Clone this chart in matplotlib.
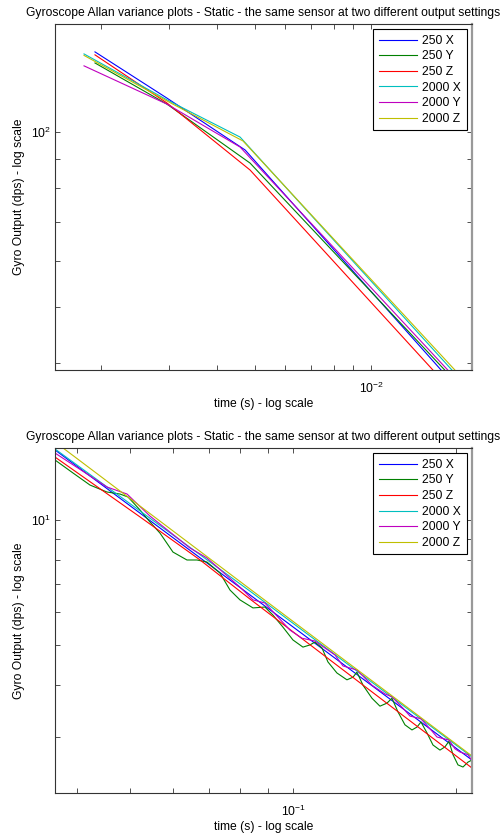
import numpy as np
import matplotlib
matplotlib.use('Agg')
import matplotlib.pyplot as plt
from matplotlib.ticker import LogLocator, NullFormatter

plt.rcParams['font.family'] = ['Liberation Sans', 'DejaVu Sans']
plt.rcParams['font.size'] = 8.7
plt.rcParams['mathtext.fontset'] = 'custom'
plt.rcParams['mathtext.rm'] = 'Liberation Sans'
plt.rcParams['mathtext.default'] = 'regular'
plt.rcParams['axes.unicode_minus'] = False

title = 'Gyroscope Allan variance plots - Static - the same sensor at two different output settings'
labels = ['250 X', '250 Y', '250 Z', '2000 X', '2000 Y', '2000 Z']
# old matlab colour order
colors = [(0, 0, 1), (0, 0.5, 0), (1, 0, 0), (0, 0.75, 0.75), (0.75, 0, 0.75), (0.75, 0.75, 0)]

# ---- top plot (tau in s, deviation in dps)
top_250x_t = [1.927e-3, 2.96e-3, 4.72e-3, 1.601e-2]
top_250x_v = [137.4, 114.4, 93.1, 37.4]
top_250y_t = [1.927e-3, 2.96e-3, 4.86e-3, 1.641e-2]
top_250y_v = [131.5, 111.7, 88.4, 37.4]
top_250z_t = [1.927e-3, 2.96e-3, 4.86e-3, 1.527e-2]
top_250z_v = [135.8, 112.2, 86.0, 37.4]
top_2000x_t = [1.805e-3, 2.96e-3, 4.58e-3, 1.710e-2]
top_2000x_v = [136.3, 113.6, 98.0, 37.4]
top_2000y_t = [1.805e-3, 2.96e-3, 4.58e-3, 1.670e-2]
top_2000y_v = [130.0, 111.7, 94.2, 37.4]
top_2000z_t = [1.805e-3, 2.96e-3, 4.66e-3, 1.742e-2]
top_2000z_v = [135.5, 113.1, 96.5, 37.4]

# ---- bottom plot
bot_250x_t = [0.03638, 0.0833, 0.2140]
bot_250x_v = [14.75, 6.60, 2.64]
bot_250y_t = [0.03638, 0.03927, 0.04221, 0.04536, 0.04794, 0.04962, 0.05222, 0.05447,
              0.05683, 0.06006, 0.06374, 0.06651, 0.06939, 0.07334, 0.07653, 0.07984,
              0.08437, 0.08877, 0.09186, 0.09583, 0.1, 0.10434, 0.10749, 0.10979,
              0.11311, 0.11603, 0.12054, 0.12579, 0.12904, 0.13125, 0.13465, 0.1399,
              0.14472, 0.14909, 0.15231, 0.15622, 0.16094, 0.16582, 0.16938, 0.17229,
              0.17672, 0.18129, 0.18677, 0.19076, 0.19405, 0.19739, 0.20162, 0.20596,
              0.21038, 0.21399]
bot_250y_v = [13.95, 12.98, 12.14, 11.68, 11.55, 11.36, 10.57, 9.89,
              9.30, 8.37, 8.01, 8.01, 7.92, 7.45, 6.78, 6.42,
              6.14, 6.17, 5.90, 5.52, 5.14, 4.94, 5.00, 5.08,
              4.92, 4.55, 4.28, 4.12, 4.18, 4.30, 4.00, 3.72,
              3.56, 3.62, 3.72, 3.45, 3.21, 3.12, 3.17, 3.26,
              3.07, 2.87, 2.79, 2.84, 2.93, 2.72, 2.57, 2.54,
              2.61, 2.64]
bot_250z_t = [0.03638, 0.05222, 0.0674, 0.0833, 0.2140]
bot_250z_v = [14.18, 10.17, 8.01, 6.45, 2.526]
bot_2000x_t = [0.03638, 0.0833, 0.2140]
bot_2000x_v = [14.83, 6.74, 2.685]
bot_2000y_t = [0.03638, 0.04536, 0.04941, 0.05447, 0.06457, 0.06939, 0.07984, 0.08437,
               0.08877, 0.09873, 0.1039, 0.10979, 0.11954, 0.12368, 0.13125, 0.1399,
               0.14784, 0.15231, 0.15959, 0.16441, 0.17229, 0.18054, 0.18442, 0.19405,
               0.19907, 0.20334, 0.21038, 0.21399]
bot_2000y_v = [14.50, 12.01, 11.55, 10.22, 8.56, 8.10, 6.89, 6.42,
               6.31, 5.43, 5.19, 5.11, 4.73, 4.45, 4.35, 4.00,
               3.81, 3.75, 3.52, 3.37, 3.32, 3.10, 3.00, 2.95,
               2.81, 2.76, 2.72, 2.63]
bot_2000z_t = [0.03638, 0.0833, 0.2140]
bot_2000z_v = [15.42, 6.82, 2.70]

top_series = [(top_250x_t, top_250x_v), (top_250y_t, top_250y_v), (top_250z_t, top_250z_v),
              (top_2000x_t, top_2000x_v), (top_2000y_t, top_2000y_v), (top_2000z_t, top_2000z_v)]
bot_series = [(bot_250x_t, bot_250x_v), (bot_250y_t, bot_250y_v), (bot_250z_t, bot_250z_v),
              (bot_2000x_t, bot_2000x_v), (bot_2000y_t, bot_2000y_v), (bot_2000z_t, bot_2000z_v)]

fig = plt.figure(figsize=(5.04, 8.38), dpi=100)
ax1 = fig.add_axes([0.1091, 0.5585, 0.8274, 0.4129])
ax2 = fig.add_axes([0.1091, 0.0537, 0.8274, 0.4117])


def draw(ax, series, xlim, ylim):
    for (t, v), c, lab in zip(series, colors, labels):
        ax.plot(t, v, color=c, lw=0.8, label=lab)
    ax.set_xscale('log')
    ax.set_yscale('log')
    ax.set_xlim(xlim)
    ax.set_ylim(ylim)
    for axis in (ax.xaxis, ax.yaxis):
        axis.set_major_locator(LogLocator(base=10, subs=(1.0,), numticks=10))
        axis.set_minor_locator(LogLocator(base=10, subs=np.arange(2, 10), numticks=10))
        axis.set_minor_formatter(NullFormatter())
    ax.tick_params(which='both', direction='in', top=True, right=True,
                   length=3.5, width=0.6, color='#333333', labelsize=8.7)
    ax.tick_params(axis='x', which='major', pad=8)
    ax.tick_params(axis='y', which='major', pad=3)
    for s in ('left', 'top', 'bottom'):
        ax.spines[s].set_color('#333333')
        ax.spines[s].set_linewidth(0.8)
    ax.spines['right'].set_color('#999999')
    ax.spines['right'].set_linewidth(1.6)
    ax.set_title(title, fontsize=8.7, pad=6)
    ax.set_xlabel('time (s) - log scale')
    ax.set_ylabel('Gyro Output (dps) - log scale')
    ax.xaxis.set_label_coords(0.5, -0.082)
    ax.yaxis.set_label_coords(-0.073, 0.5)
    leg = ax.legend(loc='upper right', fancybox=False, edgecolor='black', framealpha=1,
                    handlelength=3.2, handletextpad=0.4, borderpad=0.45,
                    labelspacing=0.3, borderaxespad=0.45)
    leg.get_frame().set_linewidth(0.8)


draw(ax1, top_series, (1.518e-3, 1.827e-2), (38.9, 153.5))
draw(ax2, bot_series, (0.03638, 0.2140), (2.199, 14.91))

fig.savefig('out.png', dpi=100)
